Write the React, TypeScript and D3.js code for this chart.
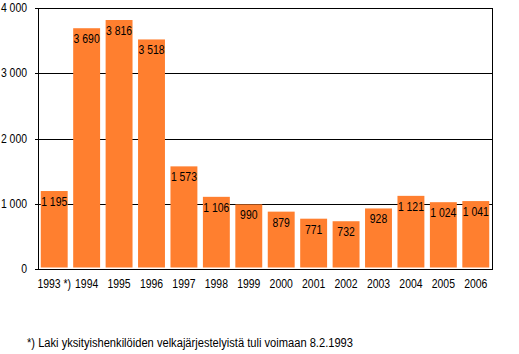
import React from "react";
import * as d3 from "d3";

const years = ["1993 *)", "1994", "1995", "1996", "1997", "1998", "1999", "2000", "2001", "2002", "2003", "2004", "2005", "2006"];
const values = [1195, 3690, 3816, 3518, 1573, 1106, 990, 879, 771, 732, 928, 1121, 1024, 1041];
const yTicks = [0, 1000, 2000, 3000, 4000];
const footnote = "*) Laki yksityishenkilöiden velkajärjestelyistä tuli voimaan 8.2.1993";

const W = 519;
const H = 354;
const FONT = "'Liberation Sans', Arial, sans-serif";
const SX = 0.87;

const fmt = (v: number) => d3.format(",")(v).replace(/,/g, " ");

function T({ x, y, anchor, children }: { x: number; y: number; anchor: string; children: React.ReactNode }) {
  return (
    <text transform={`translate(${x},${y}) scale(${SX},1)`} textAnchor={anchor} fontSize={12} fill="#000">
      {children}
    </text>
  );
}

export default function App() {
  const x = d3.scaleBand<string>().domain(years).range([38, 492]).paddingInner(0.17).paddingOuter(0.085);
  const y = d3.scaleLinear().domain([0, 4000]).range([269, 8]);
  const left = 38;
  const right = 492;

  return (
    <svg width={W} height={H} style={{ position: "absolute", left: 0, top: 0, background: "#fff" }} fontFamily={FONT}>
      {yTicks.filter((t) => t > 0).map((t) => (
        <line key={"g" + t} x1={left} x2={right} y1={Math.round(y(t)) + 0.5} y2={Math.round(y(t)) + 0.5} stroke="#000" strokeWidth={1} />
      ))}
      {values.map((v, i) => (
        <rect key={"b" + i} x={x(years[i])!} y={y(v)} width={x.bandwidth()} height={y(0) - 1.5 - y(v)} fill="#FF7F2F" />
      ))}
      {values.map((v, i) => (
        <T key={"v" + i} x={x(years[i])! + x.bandwidth() / 2} y={y(v) + 15} anchor="middle">
          {fmt(v)}
        </T>
      ))}
      <line x1={left + 0.5} x2={left + 0.5} y1={Math.round(y(4000))} y2={Math.round(y(0)) + 1} stroke="#000" strokeWidth={1} />
      <line x1={right + 0.5} x2={right + 0.5} y1={Math.round(y(4000))} y2={Math.round(y(0)) + 1} stroke="#000" strokeWidth={1} />
      <line x1={left} x2={right + 1} y1={Math.round(y(0)) + 0.5} y2={Math.round(y(0)) + 0.5} stroke="#000" strokeWidth={1} />
      {yTicks.map((t) => (
        <g key={"t" + t}>
          <line x1={left - 3} x2={left} y1={Math.round(y(t)) + 0.5} y2={Math.round(y(t)) + 0.5} stroke="#000" strokeWidth={1} />
          <T x={27} y={y(t) + 4} anchor="end">
            {fmt(t)}
          </T>
        </g>
      ))}
      {years.map((yr) => (
        <T key={"x" + yr} x={x(yr)! + x.bandwidth() / 2} y={288} anchor="middle">
          {yr}
        </T>
      ))}
      <text x={27} y={347} fontSize={12} fill="#000" textLength={326} lengthAdjust="spacingAndGlyphs">
        {footnote}
      </text>
    </svg>
  );
}
